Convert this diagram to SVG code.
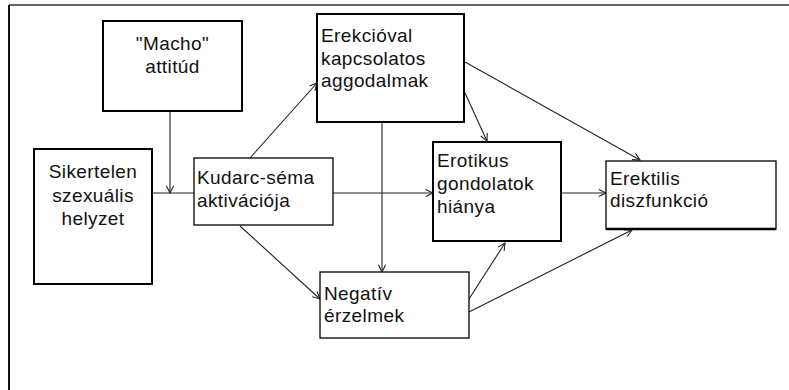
<svg xmlns="http://www.w3.org/2000/svg" width="789" height="390" viewBox="0 0 789 390">
<style>
.bx{fill:#fff;stroke:#000;stroke-width:1.3}
.bk{fill:#fff;stroke:#000;stroke-width:2}
.t{font-family:"Liberation Sans",Arial,sans-serif;font-size:19px;fill:#111;letter-spacing:0.4px}
.c{text-anchor:middle}
.ln{fill:none;stroke:#222;stroke-width:1.1}
</style>
<defs>
<marker id="ar" viewBox="0 0 10 10" refX="9" refY="5" markerWidth="9" markerHeight="9" markerUnits="userSpaceOnUse" orient="auto">
<path d="M1,1 L9,5 L1,9" fill="none" stroke="#222" stroke-width="1.2"/>
</marker>
</defs>
<rect width="789" height="390" fill="#fff"/>
<g id="frame">
<line x1="9" y1="5" x2="789" y2="5" stroke="#666" stroke-width="2"/>
<line x1="9" y1="5" x2="9" y2="390" stroke="#111" stroke-width="2"/>
</g>
<g id="connectors">
<line class="ln" x1="170" y1="111" x2="170" y2="193" marker-end="url(#ar)"/>
<line class="ln" x1="152" y1="193" x2="194" y2="193"/>
<line class="ln" x1="250" y1="158" x2="317" y2="83" marker-end="url(#ar)"/>
<line class="ln" x1="333" y1="193" x2="433" y2="193" marker-end="url(#ar)"/>
<line class="ln" x1="382" y1="122" x2="382" y2="272" marker-end="url(#ar)"/>
<line class="ln" x1="465" y1="93" x2="487" y2="141" marker-end="url(#ar)"/>
<line class="ln" x1="465" y1="62" x2="640" y2="160" marker-end="url(#ar)"/>
<line class="ln" x1="561" y1="193" x2="606" y2="193" marker-end="url(#ar)"/>
<line class="ln" x1="240" y1="226" x2="320" y2="299" marker-end="url(#ar)"/>
<line class="ln" x1="469" y1="299" x2="505" y2="243" marker-end="url(#ar)"/>
<line class="ln" x1="469" y1="312" x2="632" y2="230" marker-end="url(#ar)"/>
</g>
<g id="macho">
<rect class="bk" x="103" y="21" width="139" height="90"/>
<text class="t c" x="172.5" y="50">"Macho"</text>
<text class="t c" x="172.5" y="73">attitúd</text>
</g>
<g id="sikertelen">
<rect class="bk" x="34" y="149" width="118" height="135"/>
<text class="t c" x="93" y="178">Sikertelen</text>
<text class="t c" x="93" y="202">szexuális</text>
<text class="t c" x="93" y="225">helyzet</text>
</g>
<g id="kudarc">
<rect class="bx" x="194" y="158" width="139" height="67"/>
<text class="t" x="197" y="184">Kudarc-séma</text>
<text class="t" x="197" y="207">aktivációja</text>
</g>
<g id="erekcio">
<rect class="bk" x="317" y="14" width="147" height="108"/>
<text class="t" x="321" y="42">Erekcióval</text>
<text class="t" x="321" y="65">kapcsolatos</text>
<text class="t" x="321" y="87">aggodalmak</text>
</g>
<g id="erotikus">
<rect class="bk" x="433" y="142" width="128" height="99"/>
<text class="t" x="437" y="167">Erotikus</text>
<text class="t" x="437" y="190">gondolatok</text>
<text class="t" x="437" y="213">hiánya</text>
</g>
<g id="erektilis">
<rect class="bx" x="606" y="161" width="170" height="68"/>
<line x1="606" y1="229" x2="776" y2="229" stroke="#000" stroke-width="2.5"/>
<text class="t" x="610" y="185">Erektilis</text>
<text class="t" x="610" y="207">diszfunkció</text>
</g>
<g id="negativ">
<rect class="bx" x="320" y="272" width="149" height="66"/>
<text class="t" x="324" y="300">Negatív</text>
<text class="t" x="324" y="322">érzelmek</text>
</g>
</svg>
